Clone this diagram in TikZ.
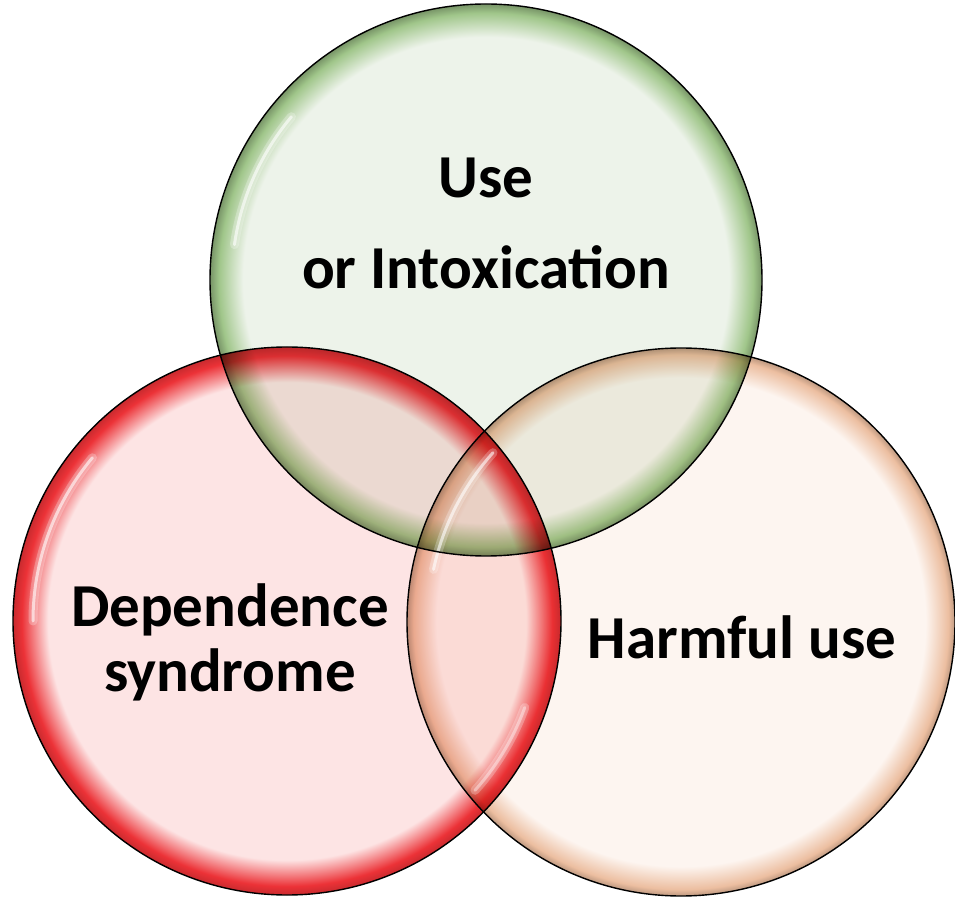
\documentclass[tikz,border=0pt]{standalone}
\usepackage{fontspec}
\setmainfont{Carlito}
\usetikzlibrary{positioning}

\definecolor{useback}{RGB}{237,243,234}
\definecolor{userim}{RGB}{160,198,138}
\definecolor{depback}{RGB}{253,228,228}
\definecolor{deprim}{RGB}{236,50,55}
\definecolor{harmback}{RGB}{253,245,240}
\definecolor{harmrim}{RGB}{236,190,160}

\pgfdeclareradialshading{useshade}{\pgfpoint{0bp}{0bp}}{color(0bp)=(useback); color(22bp)=(useback); color(24.2bp)=(userim); color(25bp)=(userim!75!black); color(50bp)=(userim!75!black)}
\pgfdeclareradialshading{depshade}{\pgfpoint{0bp}{0bp}}{color(0bp)=(depback); color(21.8bp)=(depback); color(24.2bp)=(deprim); color(25bp)=(deprim!85!black); color(50bp)=(deprim!85!black)}
\pgfdeclareradialshading{harmshade}{\pgfpoint{0bp}{0bp}}{color(0bp)=(harmback); color(22.3bp)=(harmback); color(24.4bp)=(harmrim); color(25bp)=(harmrim!80!black); color(50bp)=(harmrim!80!black)}

\begin{document}
\begin{tikzpicture}[x=1pt,y=1pt,
    ring/.style={line width=1.4pt,draw=black},
    glow/.style={white,line width=9pt,line cap=round,opacity=0.25},
    shine/.style={white,line width=3pt,line cap=round,opacity=0.6},
    usetext/.style={font=\bfseries\fontsize{61}{91}\selectfont,align=center,text=black},
    bigtext/.style={font=\bfseries\fontsize{61}{65}\selectfont,align=center,text=black}]

      \useasboundingbox (0,0) rectangle (955,900);

      % Centres
      \coordinate (usec) at (486,620);
      \coordinate (depc) at (287,279);
      \coordinate (harmc) at (681,278);

      % Add Circles
      \shade[shading=useshade,blend mode=multiply] (usec) circle (276);
      \shade[shading=harmshade,blend mode=multiply] (harmc) circle (274);
      \shade[shading=depshade,blend mode=multiply] (depc) circle (274);

      % Shine
      \draw[glow] ([shift={(140:254)}]usec) arc (140:172:254);
      \draw[shine] ([shift={(140:254)}]usec) arc (140:172:254);
      \draw[glow] ([shift={(138:253)}]harmc) arc (138:168:253);
      \draw[shine] ([shift={(138:253)}]harmc) arc (138:168:253);
      \draw[glow] ([shift={(140:254)}]depc) arc (140:180:254);
      \draw[shine] ([shift={(140:254)}]depc) arc (140:180:254);
      \draw[glow] ([shift={(318:253)}]depc) arc (318:340:253);
      \draw[shine,opacity=0.4] ([shift={(318:253)}]depc) arc (318:340:253);

      % Outlines
      \draw[ring] (usec) circle (276);
      \draw[ring] (harmc) circle (274);
      \draw[ring] (depc) circle (274);

      % Add Labels
      \node[usetext] (use) at (486,677) {Use\\or Intoxication};
      \node[bigtext] (dep) at (230,258) {Dependence\\syndrome};
      \node[bigtext,anchor=base] (harm) at (742,242) {Harmful use};
\end{tikzpicture}
\end{document}
